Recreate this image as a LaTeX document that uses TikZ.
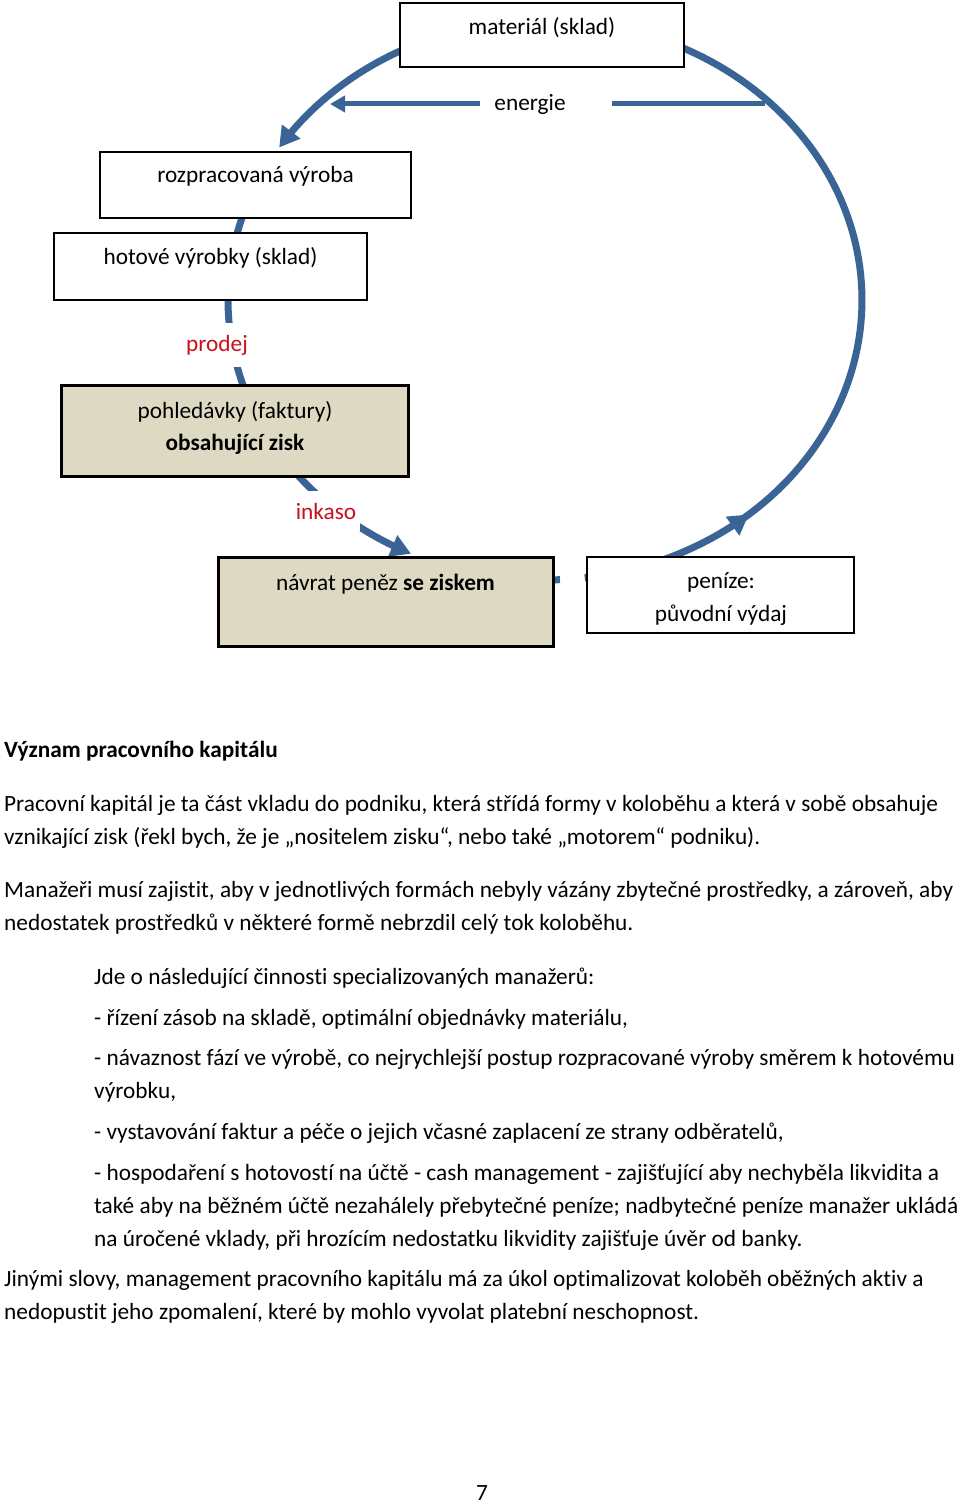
\documentclass[tikz,border=0pt]{standalone}
\usepackage{fontspec}
\setmainfont{Carlito}[Ligatures={NoCommon}]
\usetikzlibrary{arrows.meta}
\definecolor{arcblue}{RGB}{58,99,150}
\definecolor{boxtan}{RGB}{221,217,195}
\definecolor{lblred}{RGB}{200,16,30}
\begin{document}
\begin{tikzpicture}[x=1pt,y=-1pt,
  txt/.style={anchor=base, inner sep=0pt, font=\fontsize{23.3}{28}\selectfont},
  line/.style={anchor=base west, inner sep=0pt, font=\fontsize{23.3}{28}\selectfont},
  thinbox/.style={draw=black, line width=1.5pt, fill=white, inner sep=0pt},
  thickbox/.style={draw=black, line width=3pt, fill=boxtan, inner sep=0pt},
  lbl/.style={anchor=base, fill=white, inner xsep=4pt, inner ysep=12pt, text=lblred, font=\fontsize{23.3}{28}\selectfont},
  cyc/.style={draw=arcblue, line width=7pt},
  tipbig/.style={-{Triangle[length=20pt,width=22pt]}},
]
\useasboundingbox (0,0) rectangle (960,1503);
% cycle (ellipse centre 545,300; radii 317 x 280)
\draw[cyc, tipbig] plot[domain=95:147, samples=40] ({545+317*cos(\x)},{300-280*sin(\x)});
\draw[cyc, tipbig] plot[domain=150:245, samples=60] ({545+317*cos(\x)},{300-280*sin(\x)});
\draw[cyc] plot[domain=255:272.7, samples=15] ({545+317*cos(\x)},{300-280*sin(\x)});
\draw[cyc, tipbig] plot[domain=277.2:310, samples=25] ({545+317*cos(\x)},{300-280*sin(\x)});
\draw[cyc] plot[domain=307:455, samples=90] ({545+317*cos(\x)},{300-280*sin(\x)});
% energie arrow
\coordinate (eR) at (765,104);
\coordinate (eA) at (612,104);
\coordinate (eB) at (480,104);
\coordinate (eL) at (330,104);
\draw[draw=arcblue, line width=5pt] (eR) -- (eA);
\draw[draw=arcblue, line width=5pt, -{Triangle[length=15pt,width=16pt]}] (eB) -- (eL);
\node[txt] (energie) at (530,111) {energie};
% boxes
\node[thinbox, minimum width=284, minimum height=64] (mat) at (542,35) {};
\node[txt] (matT) at (542,35) {materiál (sklad)};
\node[thinbox, minimum width=311, minimum height=66] (roz) at (255.5,185) {};
\node[txt] (rozT) at (255.5,183) {rozpracovaná výroba};
\node[thinbox, minimum width=313, minimum height=67] (hot) at (210.5,266.5) {};
\node[txt] (hotT) at (210.5,265) {hotové výrobky (sklad)};
\node[lbl] (prodej) at (217,351) {prodej};
\node[thickbox, minimum width=347, minimum height=91] (poh) at (234.5,430.5) {};
\node[txt] (pohT1) at (235,418) {pohledávky (faktury)};
\node[txt] (pohT2) at (235,450) {\textbf{obsahující zisk}};
\node[lbl] (inkaso) at (326,519) {inkaso};
\node[thickbox, minimum width=335, minimum height=89] (nav) at (385.5,601.5) {};
\node[txt] (navT) at (385.5,590) {návrat peněz \textbf{se ziskem}};
\node[thinbox, line width=2pt, minimum width=267, minimum height=76] (pen) at (720.5,595) {};
\node[txt] (penT1) at (721,588) {peníze:};
\node[txt] (penT2) at (721,621) {původní výdaj};
% text
\node[line] (h1) at (4,757) {\textbf{Význam pracovního kapitálu}};
\node[line] (p1a) at (4,811) {Pracovní kapitál je ta část vkladu do podniku, která střídá formy v koloběhu a která v sobě obsahuje};
\node[line] (p1b) at (4,844) {vznikající zisk (řekl bych, že je „nositelem zisku“, nebo také „motorem“ podniku).};
\node[line] (p2a) at (4,897) {Manažeři musí zajistit, aby v jednotlivých formách nebyly vázány zbytečné prostředky, a zároveň, aby};
\node[line] (p2b) at (4,930) {nedostatek prostředků v některé formě nebrzdil celý tok koloběhu.};
\node[line] (l1) at (94,984) {Jde o následující činnosti specializovaných manažerů:};
\node[line] (l2) at (94,1025) {- řízení zásob na skladě, optimální objednávky materiálu,};
\node[line] (l3a) at (94,1065) {- návaznost fází ve výrobě, co nejrychlejší postup rozpracované výroby směrem k hotovému};
\node[line] (l3b) at (94,1098) {výrobku,};
\node[line] (l4) at (94,1139) {- vystavování faktur a péče o jejich včasné zaplacení ze strany odběratelů,};
\node[line] (l5a) at (94,1180) {- hospodaření s hotovostí na účtě - cash management - zajišťující aby nechyběla likvidita a};
\node[line] (l5b) at (94,1213) {také aby na běžném účtě nezahálely přebytečné peníze; nadbytečné peníze manažer ukládá};
\node[line] (l5c) at (94,1246) {na úročené vklady, při hrozícím nedostatku likvidity zajišťuje úvěr od banky.};
\node[line] (p3a) at (4,1286) {Jinými slovy, management pracovního kapitálu má za úkol optimalizovat koloběh oběžných aktiv a};
\node[line] (p3b) at (4,1319) {nedopustit jeho zpomalení, které by mohlo vyvolat platební neschopnost.};
\node[txt] (pg) at (482,1500) {7};
\end{tikzpicture}
\end{document}
